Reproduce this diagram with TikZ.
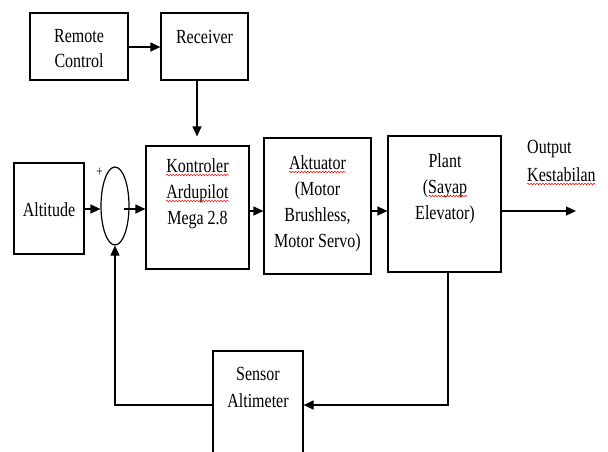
\documentclass[tikz,border=0pt]{standalone}
\usepackage{fontspec}
\setmainfont[FakeStretch=0.8]{Liberation Serif}
\usetikzlibrary{arrows.meta,shapes.geometric,decorations.pathmorphing}
\tikzset{
  blk/.style={draw,line width=1.2pt,inner sep=0pt,fill=white},
  txt/.style={inner sep=0pt,font=\fontsize{20}{26}\selectfont},
  arr/.style={line width=1.2pt,-{Triangle[length=10pt,width=9pt]}},
  ln/.style={line width=1.2pt},
  squig/.style={red,line width=0.5pt,decorate,decoration={snake,segment length=3pt,amplitude=0.8pt}}
}
\begin{document}
\begin{tikzpicture}[x=1pt,y=-1pt]
\useasboundingbox (0,0) rectangle (608,451);
\clip (0,0) rectangle (608,451);
% boxes
\node[blk,minimum width=98pt,minimum height=67pt] (rc) at (79,46.5) {};
\node[blk,minimum width=87pt,minimum height=67pt] (rec) at (204.5,46.5) {};
\node[blk,minimum width=70pt,minimum height=91pt] (alt) at (49,208.5) {};
\node[draw,ellipse,line width=1.2pt,minimum width=28pt,minimum height=78pt,inner sep=0pt] (sum) at (115,206) {};
\node[blk,minimum width=103pt,minimum height=123pt] (kon) at (197.5,207.5) {};
\node[blk,minimum width=107pt,minimum height=136pt] (akt) at (317.5,206) {};
\node[blk,minimum width=113pt,minimum height=136pt] (pl) at (444.5,204) {};
\node[blk,minimum width=90pt,minimum height=130pt] (sen) at (258,416) {};
\coordinate (out) at (576,211);
% texts
\node[txt,anchor=base] (t1) at (79,42) {Remote};
\node[txt,anchor=base] (t2) at (79,67) {Control};
\node[txt,anchor=base] (t3) at (204.5,43) {Receiver};
\node[txt,anchor=base] (t4) at (49,216) {Altitude};
\node[txt,anchor=base] (k1) at (197.5,172) {Kontroler};
\node[txt,anchor=base] (k2) at (197.5,198) {Ardupilot};
\node[txt,anchor=base] (k3) at (197.5,224) {Mega 2.8};
\node[txt,anchor=base] (a1) at (317.5,169) {Aktuator};
\node[txt,anchor=base] (a2) at (317.5,195) {(Motor};
\node[txt,anchor=base] (a3) at (317.5,221) {Brushless,};
\node[txt,anchor=base] (a4) at (317.5,247) {Motor Servo)};
\node[txt,anchor=base] (p1) at (445,167) {Plant};
\node[txt,anchor=base] (p2) at (445,193) {(Sayap};
\node[txt,anchor=base] (p3) at (445,219) {Elevator)};
\node[txt,anchor=base west] (o1) at (527,153) {Output};
\node[txt,anchor=base west] (o2) at (527,181) {Kestabilan};
\node[txt,anchor=base] (s1) at (258,380) {Sensor};
\node[txt,anchor=base] (s2) at (258,407) {Altimeter};
\node[inner sep=0pt,font=\fontsize{15}{15}\selectfont,text=blue!40!black] (plus) at (99.5,172) {+};
% spelling underlines
\foreach \n in {k1,k2,a1,o2} {
  \draw[squig] ([yshift=-3pt]\n.base west) -- ([yshift=-3pt]\n.base east);
}
\draw[squig] ([yshift=-3pt,xshift=6pt]p2.base west) -- ([yshift=-3pt]p2.base east);
% connectors
\draw[arr] (rc.east |- 0,47) -- (rec.west |- 0,47);
\draw[arr,shorten >=9pt] ([xshift=-7.5pt]rec.south) -- ([xshift=-7.5pt]rec.south |- kon.north);
\draw[arr] (alt.east |- 0,209) -- (sum.west |- 0,209);
\draw[ln] ([xshift=-6pt]sum.east |- 0,209) -- (sum.east |- 0,209);
\draw[arr] (sum.east |- 0,209) -- (kon.west |- 0,209);
\draw[arr] (kon.east |- 0,211) -- (akt.west |- 0,211);
\draw[arr] (akt.east |- 0,211) -- (pl.west |- 0,211);
\draw[arr] (pl.east |- out) -- (out);
\draw[arr] ([xshift=3.5pt]pl.south) |- (sen.east |- 0,405);
\draw[arr] (sen.west |- 0,405) -| (sum.south);
\end{tikzpicture}
\end{document}
